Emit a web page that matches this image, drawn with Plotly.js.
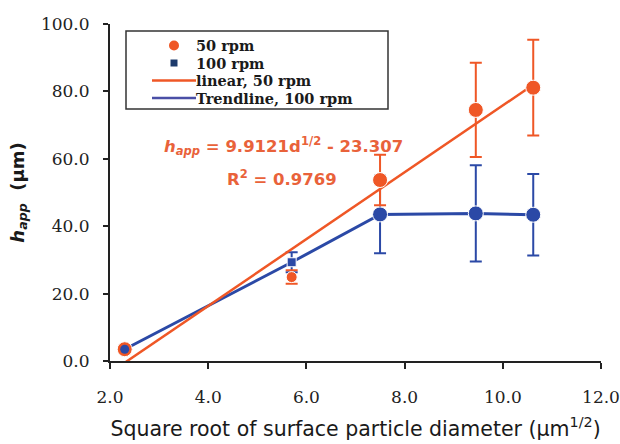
<!DOCTYPE html>
<html>
<head>
<meta charset="utf-8">
<script src="https://cdn.plot.ly/plotly-3.0.1.min.js"></script>
<style>html,body{margin:0;padding:0;background:#fff;}#chart{width:620px;height:444px;}</style>
</head>
<body>
<div id="chart"></div>
<script>
// Data
var xVals = [2.3, 5.7, 7.5, 9.45, 10.62];
var rpm50 = [3.5, 24.9, 53.7, 74.5, 81.1];
var rpm50Err = [1.0, 2.0, 7.5, 14.0, 14.2];
var rpm100 = [3.5, 29.3, 43.5, 43.8, 43.4];
var rpm100Err = [1.0, 3.0, 11.5, 14.3, 12.1];
var trendX = [2.3, 10.62];
var trendY = [-0.51, 81.96];
var xTicks = [2, 4, 6, 8, 10, 12];
var yTicks = [0, 20, 40, 60, 80, 100];
var legendLabels = ['50 rpm', '100 rpm', 'linear, 50 rpm', 'Trendline, 100 rpm'];

var orange = '#ef5726';
var blue = '#2b49a6';
var serif = 'DejaVu Serif, serif';
var sans = 'DejaVu Sans, sans-serif';

// pixel -> paper helpers (plot area 110..601 x, 24..361 y)
function px(X) { return (X - 110) / 491; }
function py(Y) { return (361 - Y) / 337; }

var traces = [
  { // blue trendline through points
    x: xVals, y: rpm100, type: 'scatter', mode: 'lines', name: 'Trendline, 100 rpm',
    line: {color: blue, width: 3}, showlegend: false
  },
  { // 100 rpm points
    x: xVals, y: rpm100, type: 'scatter', mode: 'markers', name: '100 rpm',
    marker: {color: blue, opacity: 1, size: [9, 9, 15, 15, 15], symbol: ['circle', 'square', 'circle', 'circle', 'circle']},
    error_y: {type: 'data', array: rpm100Err, visible: true, color: blue, thickness: 2, width: 6},
    showlegend: false
  },
  { // linear fit 50 rpm
    x: trendX, y: trendY, type: 'scatter', mode: 'lines', name: 'linear, 50 rpm',
    line: {color: orange, width: 2.5}, showlegend: false
  },
  { // 50 rpm points
    x: xVals, y: rpm50, type: 'scatter', mode: 'markers', name: '50 rpm',
    marker: {color: orange, opacity: 1, size: [15, 11, 15, 15, 15], symbol: 'circle'},
    error_y: {type: 'data', array: rpm50Err, visible: true, color: orange, thickness: 2, width: 6},
    showlegend: false, cliponaxis: false
  },
  { // first 100 rpm point drawn above the 50 rpm one
    x: xVals.slice(0, 1), y: rpm100.slice(0, 1), type: 'scatter', mode: 'markers', name: '100 rpm',
    marker: {color: blue, opacity: 1, size: 9, symbol: 'circle'},
    showlegend: false, cliponaxis: false
  }
];

var rowY = [45.5, 63, 80.5, 98];
var shapes = [
  {type: 'rect', xref: 'paper', yref: 'paper', x0: px(126), x1: px(388), y0: py(31), y1: py(109),
   line: {color: '#333', width: 1.5}, fillcolor: '#fff', layer: 'above'},
  {type: 'circle', xref: 'paper', yref: 'paper', x0: px(169), x1: px(179), y0: py(rowY[0] - 5), y1: py(rowY[0] + 5),
   line: {width: 0}, fillcolor: orange, layer: 'above'},
  {type: 'rect', xref: 'paper', yref: 'paper', x0: px(170.5), x1: px(177.5), y0: py(rowY[1] - 3.5), y1: py(rowY[1] + 3.5),
   line: {width: 0}, fillcolor: '#1d3a6b', layer: 'above'},
  {type: 'line', xref: 'paper', yref: 'paper', x0: px(152), x1: px(196), y0: py(rowY[2]), y1: py(rowY[2]),
   line: {color: orange, width: 2.5}, layer: 'above'},
  {type: 'line', xref: 'paper', yref: 'paper', x0: px(152), x1: px(196), y0: py(rowY[3]), y1: py(rowY[3]),
   line: {color: '#4a4fa6', width: 2.5}, layer: 'above'}
];

var annotations = legendLabels.map(function (t, i) {
  return {xref: 'paper', yref: 'paper', x: px(195), y: py(rowY[i]), text: '<b>' + t + '</b>',
          showarrow: false, xanchor: 'left', yanchor: 'middle', borderpad: 0,
          font: {family: serif, size: 14.5, color: '#1a1a1a'}};
});
annotations.push(
  {xref: 'paper', yref: 'paper', x: px(283), y: py(146),
   text: '<b><i>h</i><sub><i>app</i></sub> = 9.9121d<sup>1/2</sup> - 23.307</b>',
   showarrow: false, font: {family: sans, size: 16.5, color: '#e9623a'}, xanchor: 'center', yanchor: 'middle'},
  {xref: 'paper', yref: 'paper', x: px(282), y: py(178),
   text: '<b>R<sup>2</sup> = 0.9769</b>',
   showarrow: false, font: {family: sans, size: 16.5, color: '#e9623a'}, xanchor: 'center', yanchor: 'middle'}
);

var layout = {
  width: 620, height: 444,
  margin: {l: 110, r: 19, t: 24, b: 83},
  paper_bgcolor: '#fff', plot_bgcolor: '#fff',
  showlegend: false,
  xaxis: {
    range: [2, 12], tickvals: xTicks, ticktext: xTicks.map(function(v){return v.toFixed(1);}),
    showgrid: false, zeroline: false, showline: true, linecolor: '#222', linewidth: 2,
    ticks: 'outside', ticklen: 6, tickwidth: 2, tickcolor: '#222', ticklabelstandoff: 14,
    tickfont: {family: serif, size: 17, color: '#222'},
    title: {text: 'Square root of surface particle diameter (μm<sup>1/2</sup>)',
            font: {family: sans, size: 20.5, color: '#1a1a1a'}, standoff: 15}
  },
  yaxis: {
    range: [0, 100], tickvals: yTicks, ticktext: yTicks.map(function(v){return v.toFixed(1);}),
    showgrid: false, zeroline: false, showline: true, linecolor: '#222', linewidth: 2,
    ticks: 'outside', ticklen: 5, tickwidth: 2, tickcolor: '#222', ticklabelstandoff: 10,
    tickfont: {family: serif, size: 17, color: '#222'},
    title: {text: '<b><i>h</i><sub><i>app</i></sub>  (μm)</b>',
            font: {family: sans, size: 18, color: '#1a1a1a'}, standoff: 12}
  },
  shapes: shapes,
  annotations: annotations
};

Plotly.newPlot('chart', traces, layout, {displayModeBar: false, staticPlot: true});
</script>
</body>
</html>
